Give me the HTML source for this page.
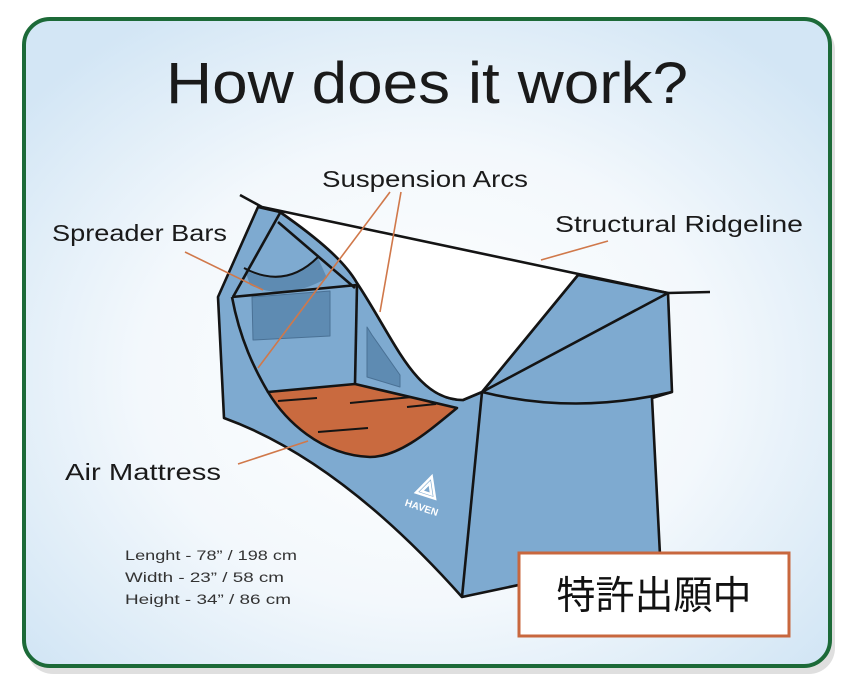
<!DOCTYPE html>
<html><head><meta charset="utf-8"><style>
html,body{margin:0;padding:0;background:#fff;width:854px;height:688px;overflow:hidden}
svg{display:block}
text{font-family:"Liberation Sans","Noto Sans CJK JP",sans-serif}
</style></head><body>
<svg width="854" height="688" viewBox="0 0 854 688" xmlns="http://www.w3.org/2000/svg">
<defs>
<radialGradient id="bg" cx="0.5" cy="0.55" r="0.65">
<stop offset="0" stop-color="#ffffff"/><stop offset="0.55" stop-color="#f3f8fc"/><stop offset="1" stop-color="#d3e6f5"/>
</radialGradient>
</defs>
<rect x="27" y="24" width="808" height="650" rx="26" fill="#c9c9c9" opacity="0.6"/>
<rect x="24" y="19" width="806" height="647" rx="26" fill="url(#bg)" stroke="#1c6a38" stroke-width="4"/>
<text x="427" y="103" font-size="58" text-anchor="middle" fill="#1a1a1a" textLength="522" lengthAdjust="spacingAndGlyphs">How does it work?</text>

<g stroke="#141414" stroke-width="2.6" stroke-linejoin="round" fill="none">
<path d="M258,207 L280,212 C320,240 345,262 357,283 C395,340 415,400 463,400 L482,392 L578,275 L668,293 L672,392 L652,398 L660,555 L462,597 Q340,460 224,418 L218,297 Z" fill="#7eaad0"/>
<path d="M280,212 L578,275 L482,392 L463,400 C415,400 395,340 357,283 C345,262 320,240 280,212 Z" fill="#ffffff" stroke="none"/>
<path d="M280,212 C320,240 345,262 357,283 C395,340 415,400 463,400 L482,392 L578,275"/>
<path d="M240,195 L262,207 L668,293 L710,292"/>
<path d="M245,270 Q285,290 318,258 L327,278 Q285,302 250,285 Z" fill="#5e8bb2" stroke="none"/>
<path d="M244,268 Q285,290 318,257" stroke-width="2"/>
<path d="M252,297 L330,291 L330,336 L253,340 Z" fill="#5e8bb2" stroke="#4a7195" stroke-width="1"/>
<path d="M367,327 L372,335 L400,375 L400,387 L367,377 Z" fill="#5e8bb2" stroke="#4a7195" stroke-width="1"/>
<path d="M280,213 L233,297"/>
<path d="M278,222 L355,288"/>
<path d="M232,297 L357,285"/>
<path d="M357,285 L355,384"/>
<path d="M268,392 L355,384 L457,408 C430,430 400,457 370,457 C320,455 285,420 268,392 Z" fill="#c96a3f"/>
<path d="M232,297 C240,340 255,370 268,392" />
<path d="M278,401 L317,398 M350,403 L412,397 M407,407 L436,404 M318,432 L368,428" stroke-width="2"/>
<path d="M668,293 L482,392"/>
<path d="M482,392 Q575,415 672,392"/>
<path d="M482,392 L462,597"/>
</g>
<g transform="translate(428,488) rotate(18)" fill="#ffffff">
<path d="M0,-12 L10,8 L-10,8 Z M0,-5 L-5,5 L5,5 Z" fill="none" stroke="#fff" stroke-width="2.5"/>
<text x="0" y="24" font-size="10" font-weight="bold" text-anchor="middle">HAVEN</text>
</g>

<g stroke="#d0784a" stroke-width="1.6">
<line x1="185" y1="252" x2="263" y2="290"/>
<line x1="390" y1="192" x2="258" y2="368"/>
<line x1="401" y1="192" x2="380" y2="312"/>
<line x1="608" y1="241" x2="541" y2="260"/>
<line x1="238" y1="464" x2="308" y2="441"/>
</g>

<g fill="#1a1a1a" font-size="23">
<text x="322" y="187" textLength="206" lengthAdjust="spacingAndGlyphs">Suspension Arcs</text>
<text x="52" y="241" textLength="175" lengthAdjust="spacingAndGlyphs">Spreader Bars</text>
<text x="555" y="232" textLength="248" lengthAdjust="spacingAndGlyphs">Structural Ridgeline</text>
<text x="65" y="480" textLength="156" lengthAdjust="spacingAndGlyphs">Air Mattress</text>
</g>
<g fill="#333" font-size="13.5">
<text x="125" y="560" textLength="172" lengthAdjust="spacingAndGlyphs">Lenght - 78” / 198 cm</text>
<text x="125" y="582" textLength="159" lengthAdjust="spacingAndGlyphs">Width - 23” / 58 cm</text>
<text x="125" y="604" textLength="166" lengthAdjust="spacingAndGlyphs">Height - 34” / 86 cm</text>
</g>

<rect x="519" y="553" width="270" height="83" fill="#ffffff" stroke="#c8673e" stroke-width="3"/>
<text x="654" y="609" font-size="39" text-anchor="middle" fill="#111">特許出願中</text>
</svg>
</body></html>
